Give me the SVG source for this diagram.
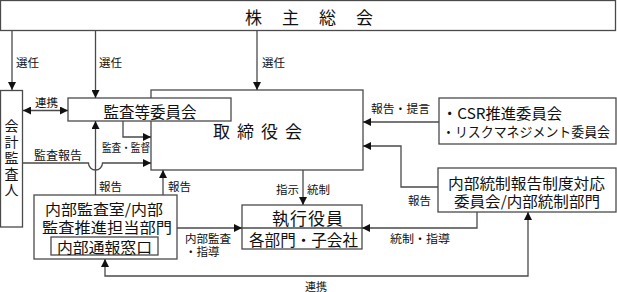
<svg xmlns="http://www.w3.org/2000/svg" width="617" height="292" viewBox="0 0 617 292">
<defs>
<style>
text{font-family:"Noto Sans CJK JP","Noto Sans CJK SC",sans-serif;fill:#111;dominant-baseline:central}
.box{fill:#fff;stroke:#4a4a4a;stroke-width:1.3}
.ln{fill:none;stroke:#4a4a4a;stroke-width:1.3}
.lb{font-size:11.5px}
.bx{font-size:15px}
.vt{font-size:14px;writing-mode:vertical-rl;letter-spacing:2px}
</style>
<marker id="ah" viewBox="0 0 8 8" refX="8" refY="4" markerWidth="8" markerHeight="8" markerUnits="userSpaceOnUse" orient="auto-start-reverse">
<path d="M0,0 L8,4 L0,8 z" fill="#111"/>
</marker>
</defs>
<rect width="617" height="292" fill="#fff"/>

<g id="shareholders">
<rect class="box" x="0.5" y="0.5" width="615" height="30"/>
<text x="245" y="16" font-size="17" letter-spacing="20">株主総会</text>
</g>

<g id="board">
<rect class="box" x="151" y="90" width="212" height="80"/>
<text x="213" y="130.5" font-size="17" letter-spacing="7">取締役会</text>
</g>

<g id="audit-committee">
<rect class="box" x="68" y="98" width="163" height="23"/>
<text x="150" y="110.5" font-size="15.5" text-anchor="middle">監査等委員会</text>
</g>

<g id="accounting-auditor">
<rect class="box" x="0.5" y="90.5" width="22" height="136.5"/>
<text class="vt" x="11.5" y="119">会計監査人</text>
</g>

<g id="internal-audit">
<rect class="box" x="34" y="195" width="143" height="64"/>
<text class="bx"><tspan x="45" y="208" textLength="118" lengthAdjust="spacingAndGlyphs">内部監査室/内部</tspan><tspan x="42" y="226" textLength="130" lengthAdjust="spacingAndGlyphs">監査推進担当部門</tspan></text>
<rect class="box" x="51" y="237" width="107" height="18"/>
<text class="bx" x="57" y="246" textLength="95" lengthAdjust="spacingAndGlyphs">内部通報窓口</text>
</g>

<g id="executives">
<rect class="box" x="242" y="205" width="120" height="44"/>
<line class="ln" x1="242" y1="228" x2="362" y2="228"/>
<text x="272" y="217" font-size="17" letter-spacing="1">執行役員</text>
<text x="249" y="239" font-size="15.5" textLength="109" lengthAdjust="spacingAndGlyphs">各部門・子会社</text>
</g>

<g id="csr">
<rect class="box" x="439" y="98" width="177" height="46"/>
<text class="bx" x="442" y="112" textLength="120" lengthAdjust="spacingAndGlyphs">・CSR推進委員会</text>
<text x="442" y="131" font-size="13.5" textLength="168" lengthAdjust="spacingAndGlyphs">・リスクマネジメント委員会</text>
</g>

<g id="internal-control">
<rect class="box" x="438" y="168" width="178" height="44"/>
<text class="bx"><tspan x="448" y="182" textLength="157" lengthAdjust="spacingAndGlyphs">内部統制報告制度対応</tspan><tspan x="454" y="200" textLength="146" lengthAdjust="spacingAndGlyphs">委員会/内部統制部門</tspan></text>
</g>

<g id="connectors">
<path class="ln" d="M12,30.5 V90" marker-end="url(#ah)"/>
<path class="ln" d="M95.5,30.5 V98" marker-end="url(#ah)"/>
<path class="ln" d="M257,30.5 V90" marker-end="url(#ah)"/>
<path class="ln" d="M23,110.5 H68" marker-start="url(#ah)" marker-end="url(#ah)"/>
<path class="ln" d="M123,121 V137 H151" marker-end="url(#ah)"/>
<path class="ln" d="M23,163 H88.5 A7,7 0 0 0 102.5,163 H151" marker-end="url(#ah)"/>
<path class="ln" d="M95.5,195 V121" marker-end="url(#ah)"/>
<path class="ln" d="M163,195 V170" marker-end="url(#ah)"/>
<path class="ln" d="M303,170 V205" marker-end="url(#ah)"/>
<path class="ln" d="M177,228 H242" marker-end="url(#ah)"/>
<path class="ln" d="M439,122 H363" marker-end="url(#ah)"/>
<path class="ln" d="M438,187 H401 V146 H363" marker-end="url(#ah)"/>
<path class="ln" d="M477,212 V228 H362" marker-end="url(#ah)"/>
<path class="ln" d="M105,259 V276 H528 V212" marker-start="url(#ah)" marker-end="url(#ah)"/>
<text class="lb" x="16" y="62">選任</text>
<text class="lb" x="99" y="62">選任</text>
<text class="lb" x="262" y="62">選任</text>
<text class="lb" x="35" y="101.5">連携</text>
<text x="34" y="154" font-size="12">監査報告</text>
<text x="102" y="147" font-size="11" textLength="48" lengthAdjust="spacingAndGlyphs">監査・監督</text>
<text class="lb" x="99" y="186">報告</text>
<text class="lb" x="168" y="186">報告</text>
<text class="lb" x="276" y="189">指示</text>
<text class="lb" x="307" y="189">統制</text>
<text class="lb"><tspan x="185" y="238">内部監査</tspan><tspan x="185" y="251">・指導</tspan></text>
<text class="lb" x="371" y="108" textLength="59" lengthAdjust="spacingAndGlyphs">報告・提言</text>
<text class="lb" x="408" y="200">報告</text>
<text class="lb" x="390" y="238" textLength="60" lengthAdjust="spacingAndGlyphs">統制・指導</text>
<text x="305" y="285.5" font-size="11">連携</text>
</g>
</svg>
